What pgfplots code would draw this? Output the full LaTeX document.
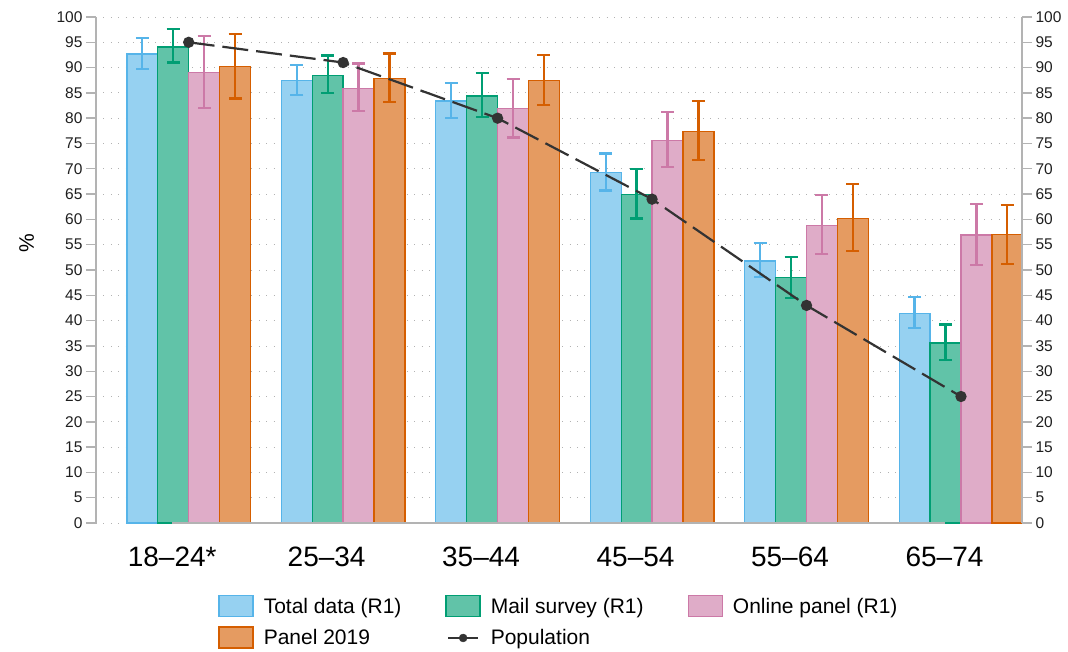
\documentclass[border=0pt]{standalone}
\usepackage{pgfplots}
\usepackage{pgfplotstable}
\pgfplotsset{compat=1.18}
\usepackage{fontspec}
\setmainfont{Liberation Sans}

\definecolor{skyE}{HTML}{56B4E9}
\definecolor{greenE}{HTML}{009E73}
\definecolor{pinkE}{HTML}{CC79A7}
\definecolor{orangeE}{HTML}{D55E00}
\definecolor{axgray}{HTML}{B3B3B3}
\definecolor{popc}{HTML}{333333}

% share of each age group: estimate, upper and lower error
\pgfplotstableread{
x  B     Bp   Bm   G     Gp   Gm   P     Pp   Pm   O     Op   Om
0  92.7  3.2  3.0  94.1  3.5  3.1  89.1  7.2  7.1  90.2  6.4  6.3
1  87.4  3.1  2.8  88.5  3.9  3.5  85.9  4.9  4.5  87.9  4.9  4.7
2  83.4  3.5  3.4  84.4  4.5  4.2  81.9  5.8  5.7  87.4  5.1  4.8
3  69.2  3.8  3.5  64.9  5.1  4.7  75.6  5.6  5.3  77.4  6.0  5.7
4  51.8  3.5  3.2  48.5  4.1  4.0  58.8  6.0  5.6  60.2  6.8  6.5
5  41.4  3.3  2.9  35.6  3.6  3.4  56.9  6.1  5.9  57.0  5.8  5.8
}\agedata

\pgfplotstableread{
x  pop
0  95
1  91
2  80
3  64
4  43
5  25
}\popdata

\pgfplotsset{
  frame/.style={
    at={(0,0)}, anchor=south west,
    scale only axis, width=926pt, height=506pt,
    xmin=-0.6, xmax=5.395, ymin=0, ymax=100,
    ytick={0,5,...,100},
    major tick length=10pt, tick align=outside,
    y axis line style={draw=axgray, line width=2pt},
    ytick style={draw=axgray, line width=1.4pt},
    yticklabel style={font=\fontsize{15.5}{17}\selectfont, text=black!88},
    /pgf/number format/assume math mode=true,
  },
  agebar/.style={
    draw=#1, line width=1.3pt, fill=#1!62!white,
    /pgfplots/error bars/y dir=both,
    /pgfplots/error bars/y explicit,
    /pgfplots/error bars/error bar style={draw=#1, line width=2.3pt},
    /pgfplots/error bars/error mark options={rotate=90, mark size=6.5pt, line width=2.3pt, draw=#1},
    legend image code/.code={
      \draw[draw=#1, line width=1.3pt, fill=#1!62!white] (0pt,-10pt) rectangle (34pt,11pt);},
  },
}

\begin{document}
\begin{tikzpicture}
\path[use as bounding box] (-96pt,-128pt) rectangle (972pt,523pt);

\begin{axis}[
  frame,
  ybar=0pt, bar width=30.9pt,
  axis y line*=left, axis x line*=bottom,
  x axis line style={draw=none},
  xtick={0,...,5},
  xticklabels={18–24*,25–34,35–44,45–54,55–64,65–74},
  major x tick style={draw=none},
  xticklabel style={font=\fontsize{28}{30}\selectfont, text=black, anchor=base, yshift=-33pt, xshift=-16.5pt},
  ymajorgrids,
  major y grid style={draw=black!30, line width=0.8pt, dash pattern=on 0.8pt off 6.6pt},
  ylabel={\%},
  ylabel style={font=\fontsize{21}{23}\selectfont, at={(axis description cs:-0.075,0.553)}, anchor=center},
  legend style={at={(axis description cs:0.5,-0.138)}, anchor=north, draw=none, fill=none,
    font=\fontsize{21}{23}\selectfont, legend columns=3,
    /tikz/every odd column/.append style={column sep=8pt},
    /tikz/every even column/.append style={column sep=42pt},
    row sep=9pt},
  legend cell align=left,
]
\addplot[agebar=skyE] table[x=x, y=B, y error plus=Bp, y error minus=Bm] {\agedata};
\addlegendentry{Total data (R1)}
\addplot[agebar=greenE] table[x=x, y=G, y error plus=Gp, y error minus=Gm] {\agedata};
\addlegendentry{Mail survey (R1)}
\addplot[agebar=pinkE] table[x=x, y=P, y error plus=Pp, y error minus=Pm] {\agedata};
\addlegendentry{Online panel (R1)}
\addplot[agebar=orangeE] table[x=x, y=O, y error plus=Op, y error minus=Om] {\agedata};
\addlegendentry{Panel 2019}
\addlegendimage{legend image code/.code={
    \draw[popc, line width=2.2pt] (2pt,0pt) -- (32pt,0pt);
    \fill[popc] (17pt,0pt) circle (4pt);}}
\addlegendentry{Population}
\end{axis}

\begin{axis}[
  frame,
  axis y line*=right, axis x line=none,
]
\addplot[axgray, line width=2pt] coordinates {(-0.105,0) (4.895,0)};
\addplot[popc, line width=2.2pt, dash pattern=on 26pt off 8pt,
  mark=*, mark size=4.5pt, mark options={solid, fill=popc}]
  table[x=x, y=pop] {\popdata};
\end{axis}
\end{tikzpicture}
\end{document}
